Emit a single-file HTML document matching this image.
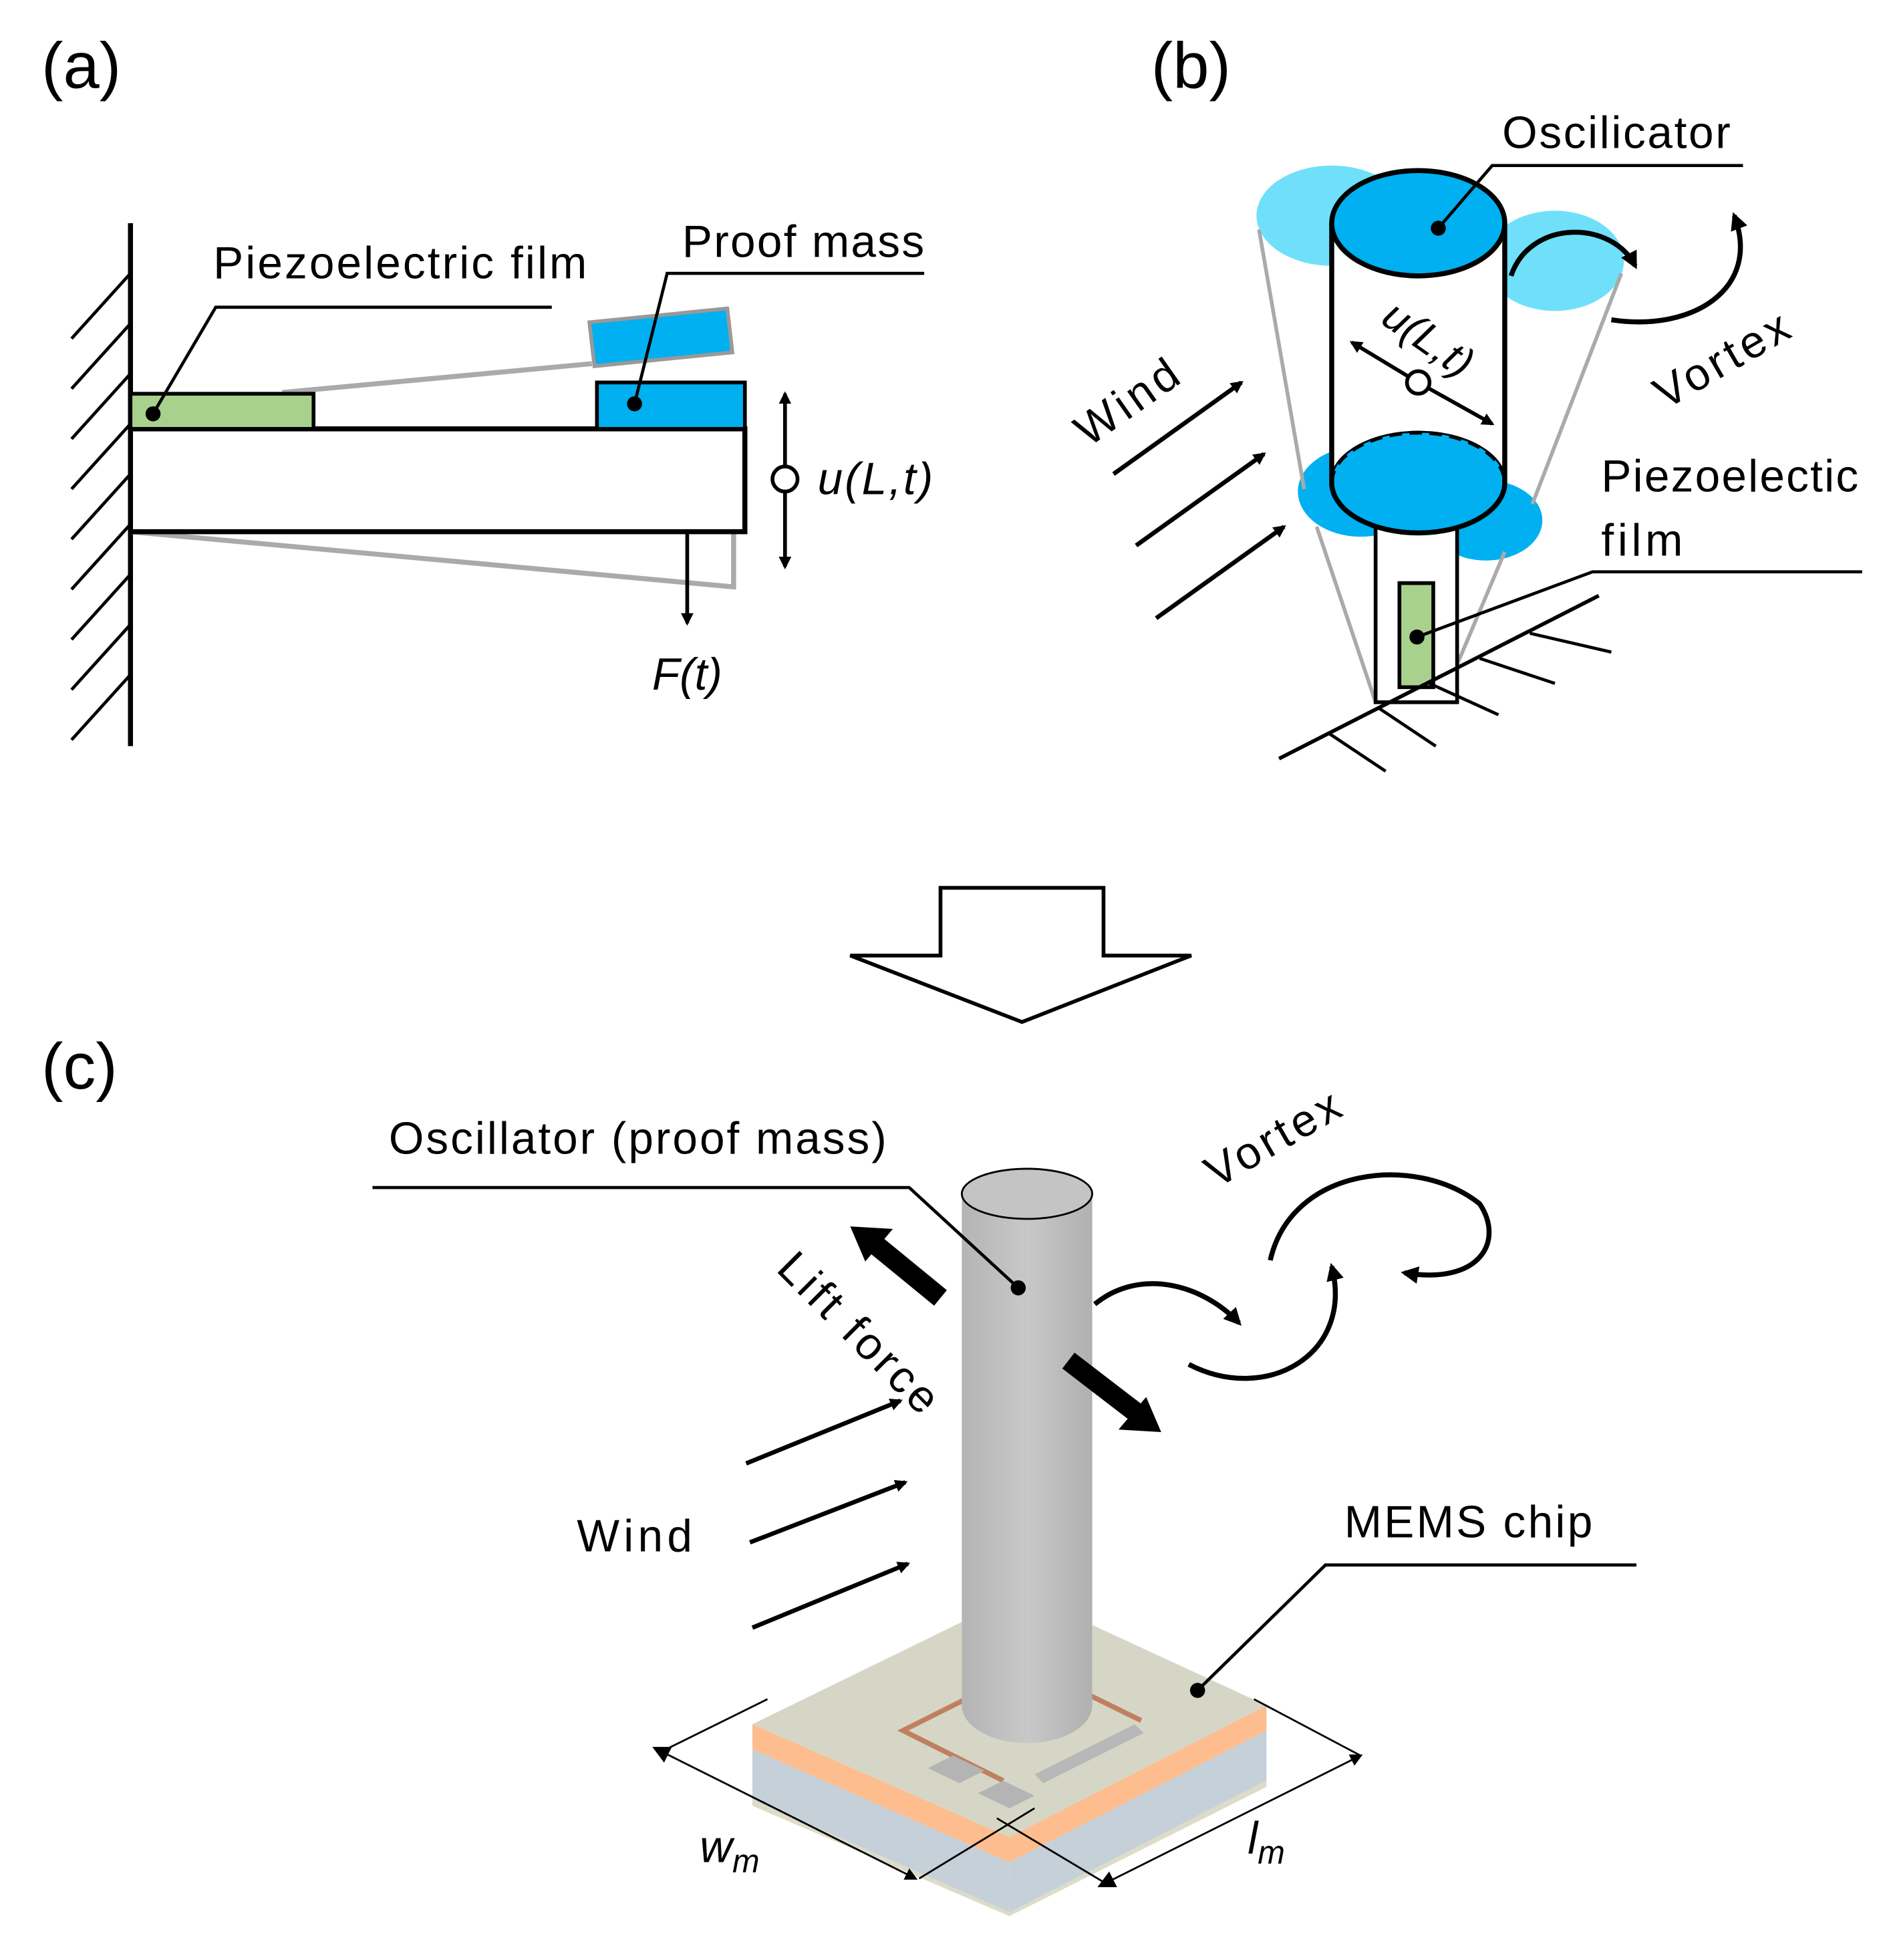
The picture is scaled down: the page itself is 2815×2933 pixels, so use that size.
<!DOCTYPE html>
<html><head><meta charset="utf-8"><style>
html,body{margin:0;padding:0;background:#fff}
svg{display:block}
text{font-family:"Liberation Sans","DejaVu Sans",sans-serif;fill:#000}
</style></head><body>
<svg width="2815" height="2933" viewBox="0 0 1500 1563" xmlns="http://www.w3.org/2000/svg">
<defs>
<marker id="ah" markerWidth="10" markerHeight="10" refX="8" refY="5" orient="auto" markerUnits="userSpaceOnUse"><path d="M0,0 L10,5 L0,10 Z" fill="#000"/></marker>
<marker id="ah2" markerWidth="14" markerHeight="14" refX="11" refY="7" orient="auto" markerUnits="userSpaceOnUse"><path d="M0,0 L14,7 L0,14 Z" fill="#000"/></marker>
<marker id="ahs" markerWidth="14" markerHeight="14" refX="3" refY="7" orient="auto-start-reverse" markerUnits="userSpaceOnUse"><path d="M0,0 L14,7 L0,14 Z" fill="#000"/></marker>
<linearGradient id="cyl" x1="0" x2="1"><stop offset="0" stop-color="#b4b4b4"/><stop offset="0.5" stop-color="#c8c8c8"/><stop offset="1" stop-color="#b0b0b0"/></linearGradient>
</defs>

<!-- (a) -->
<text x="33" y="70" font-size="52">(a)</text>
<line x1="104" y1="178" x2="104" y2="595" stroke="#000" stroke-width="4"/>
<g stroke="#000" stroke-width="2.5">
<line x1="104" y1="218" x2="57" y2="270"/><line x1="104" y1="258" x2="57" y2="310"/>
<line x1="104" y1="298" x2="57" y2="350"/><line x1="104" y1="338" x2="57" y2="390"/>
<line x1="104" y1="378" x2="57" y2="430"/><line x1="104" y1="418" x2="57" y2="470"/>
<line x1="104" y1="458" x2="57" y2="510"/><line x1="104" y1="498" x2="57" y2="550"/>
<line x1="104" y1="538" x2="57" y2="590"/>
</g>
<g stroke="#aaa" stroke-width="4" fill="none">
<line x1="225" y1="313" x2="472" y2="290"/>
<polyline points="104,424 585,468 585,425"/>
</g>
<polygon points="470,257 580,246 584,281 474,292" fill="#00b0f0" stroke="#999" stroke-width="3"/>
<rect x="104" y="342" width="490" height="82" fill="#fff" stroke="#000" stroke-width="4"/>
<rect x="104" y="314" width="146" height="28" fill="#a9d18e" stroke="#000" stroke-width="3"/>
<rect x="476" y="305" width="118" height="37" fill="#00b0f0" stroke="#000" stroke-width="3"/>
<line x1="626" y1="382" x2="626" y2="314" stroke="#000" stroke-width="3" marker-end="url(#ah)"/>
<line x1="626" y1="382" x2="626" y2="452" stroke="#000" stroke-width="3" marker-end="url(#ah)"/>
<circle cx="626" cy="382" r="10" fill="#fff" stroke="#000" stroke-width="3"/>
<text x="652" y="394" font-size="36" font-style="italic" textLength="92">u(L,t)</text>
<line x1="548" y1="424" x2="548" y2="497" stroke="#000" stroke-width="3" marker-end="url(#ah)"/>
<text x="520" y="550" font-size="36" font-style="italic">F(t)</text>
<text x="170" y="222" font-size="36" textLength="298">Piezoelectric film</text>
<polyline points="440,245 172,245 122,330" fill="none" stroke="#000" stroke-width="2.5"/>
<circle cx="122" cy="330" r="6" fill="#000"/>
<text x="544" y="205" font-size="36" textLength="193">Proof mass</text>
<polyline points="737,218 532,218 506,322" fill="none" stroke="#000" stroke-width="2.5"/>
<circle cx="506" cy="322" r="6" fill="#000"/>

<!-- (b) -->
<text x="918" y="70" font-size="52">(b)</text>
<ellipse cx="1062" cy="172" rx="60" ry="40" fill="#70e0fa"/>
<ellipse cx="1240" cy="208" rx="55" ry="40" fill="#70e0fa"/>
<ellipse cx="1085" cy="392" rx="50" ry="36" fill="#00b0f0"/>
<ellipse cx="1185" cy="415" rx="45" ry="32" fill="#00b0f0"/>
<g stroke="#aaa" stroke-width="3" fill="none">
<line x1="1004" y1="183" x2="1040" y2="390"/>
<line x1="1293" y1="218" x2="1222" y2="402"/>
<line x1="1050" y1="420" x2="1097" y2="560"/>
<line x1="1200" y1="440" x2="1162" y2="530"/>
</g>
<rect x="1097" y="420" width="65" height="140" fill="#fff" stroke="#000" stroke-width="3"/>
<rect x="1116" y="465" width="27" height="83" fill="#a9d18e" stroke="#000" stroke-width="3"/>
<rect x="1062" y="178" width="138" height="207" fill="#fff"/>
<ellipse cx="1131" cy="385" rx="69" ry="40" fill="#00b0f0" stroke="#000" stroke-width="3"/>
<path d="M1062,385 A69,40 0 0 1 1200,385" fill="#00b0f0" stroke="#000" stroke-width="3" stroke-dasharray="10,6"/>
<path d="M1062,385 A69,40 0 0 0 1200,385" fill="none" stroke="#000" stroke-width="4"/>
<line x1="1062" y1="178" x2="1062" y2="385" stroke="#000" stroke-width="4"/>
<line x1="1200" y1="178" x2="1200" y2="385" stroke="#000" stroke-width="4"/>
<ellipse cx="1131" cy="178" rx="69" ry="42" fill="#00b0f0" stroke="#000" stroke-width="4"/>
<line x1="1020" y1="605" x2="1275" y2="475" stroke="#000" stroke-width="3"/>
<g stroke="#000" stroke-width="2.5">
<line x1="1060" y1="585" x2="1105" y2="615"/><line x1="1100" y1="565" x2="1145" y2="595"/>
<line x1="1140" y1="545" x2="1195" y2="570"/><line x1="1180" y1="525" x2="1240" y2="545"/>
<line x1="1220" y1="505" x2="1285" y2="520"/>
</g>
<line x1="888" y1="378" x2="990" y2="305" stroke="#000" stroke-width="3.5" marker-end="url(#ah)"/>
<line x1="906" y1="435" x2="1008" y2="362" stroke="#000" stroke-width="3.5" marker-end="url(#ah)"/>
<line x1="922" y1="493" x2="1024" y2="420" stroke="#000" stroke-width="3.5" marker-end="url(#ah)"/>
<text x="0" y="0" font-size="36" transform="translate(868,357) rotate(-35)" textLength="92">Wind</text>
<text x="1198" y="118" font-size="36" textLength="182">Oscilicator</text>
<polyline points="1390,132 1190,132 1147,182" fill="none" stroke="#000" stroke-width="2.5"/>
<circle cx="1147" cy="182" r="6" fill="#000"/>
<line x1="1131" y1="305" x2="1078" y2="273" stroke="#000" stroke-width="3" marker-end="url(#ah)"/>
<line x1="1131" y1="305" x2="1190" y2="338" stroke="#000" stroke-width="3" marker-end="url(#ah)"/>
<circle cx="1131" cy="305" r="9" fill="#fff" stroke="#000" stroke-width="3"/>
<text x="0" y="0" font-size="34" font-style="italic" transform="translate(1100,257) rotate(35)">u(L,t)</text>
<path d="M1205,220 C1220,175 1285,175 1304,212" fill="none" stroke="#000" stroke-width="4" marker-end="url(#ah2)"/>
<path d="M1285,255 C1350,265 1405,230 1383,172" fill="none" stroke="#000" stroke-width="4" marker-end="url(#ah2)"/>
<text x="0" y="0" font-size="36" transform="translate(1328,327) rotate(-30)" textLength="118">Vortex</text>
<text x="1277" y="392" font-size="36" textLength="205">Piezoelectic</text>
<text x="1277" y="443" font-size="36" textLength="65">film</text>
<polyline points="1485,456 1270,456 1130,508" fill="none" stroke="#000" stroke-width="2.5"/>
<circle cx="1130" cy="508" r="6" fill="#000"/>

<!-- big arrow -->
<polygon points="750,708 880,708 880,762 950,762 815,815 678,762 750,762" fill="#fff" stroke="#000" stroke-width="3"/>

<!-- (c) -->
<text x="33" y="868" font-size="52">(c)</text>
<polygon points="600,1395 805,1485 805,1525 600,1435" fill="#c6d0d8"/>
<polygon points="805,1485 1010,1380 1010,1420 805,1525" fill="#c6d0d8"/>
<polygon points="600,1375 805,1465 1010,1360 1010,1380 805,1485 600,1395" fill="#fdbd8e"/>
<polygon points="600,1375 815,1270 1010,1360 805,1465" fill="#d6d6c6"/>
<polygon points="600,1435 805,1525 1010,1420 1010,1425 805,1528 600,1440" fill="#dcdcc8"/>
<polyline points="770,1355 720,1380 800,1420" fill="none" stroke="#c08060" stroke-width="4"/>
<polyline points="865,1350 910,1372" fill="none" stroke="#c08060" stroke-width="4"/>
<polygon points="740,1410 760,1400 785,1412 765,1422" fill="#b4b4b4"/>
<polygon points="780,1430 800,1420 825,1432 805,1442" fill="#b4b4b4"/>
<polygon points="825,1415 905,1375 912,1382 832,1422" fill="#b8b8b8"/>
<path d="M767,952 L767,1360 A52,30 0 0 0 871,1360 L871,952 Z" fill="url(#cyl)"/>
<ellipse cx="819" cy="952" rx="52" ry="20" fill="#c4c4c4" stroke="#000" stroke-width="1.5"/>
<g stroke="#000" stroke-width="1.5" fill="none">
<line x1="612" y1="1355" x2="525" y2="1398"/>
<line x1="825" y1="1442" x2="733" y2="1498"/>
<line x1="530" y1="1398" x2="730" y2="1498" marker-start="url(#ahs)" marker-end="url(#ah)"/>
<line x1="1000" y1="1355" x2="1085" y2="1400"/>
<line x1="795" y1="1450" x2="882" y2="1502"/>
<line x1="885" y1="1500" x2="1085" y2="1400" marker-start="url(#ahs)" marker-end="url(#ah)"/>
</g>
<text x="558" y="1485" font-size="36" font-style="italic">w<tspan font-size="26" dy="8">m</tspan></text>
<text x="995" y="1478" font-size="36" font-style="italic">l<tspan font-size="26" dy="8">m</tspan></text>
<text x="310" y="920" font-size="36" textLength="397">Oscillator (proof mass)</text>
<polyline points="297,947 725,947 812,1027" fill="none" stroke="#000" stroke-width="2.5"/>
<circle cx="812" cy="1027" r="6" fill="#000"/>
<text x="1072" y="1226" font-size="36" textLength="198">MEMS chip</text>
<polyline points="1305,1248 1057,1248 955,1348" fill="none" stroke="#000" stroke-width="2.5"/>
<circle cx="955" cy="1348" r="6" fill="#000"/>
<line x1="750" y1="1035" x2="695" y2="990" stroke="#000" stroke-width="16"/>
<polygon points="678,978 712,980 690,1006" fill="#000"/>
<line x1="852" y1="1085" x2="908" y2="1128" stroke="#000" stroke-width="16"/>
<polygon points="926,1142 892,1140 914,1114" fill="#000"/>
<text x="0" y="0" font-size="36" transform="translate(618,1013) rotate(45)" textLength="165">Lift force</text>
<text x="0" y="0" font-size="36" transform="translate(970,948) rotate(-30)" textLength="118">Vortex</text>
<path d="M873,1040 C910,1010 960,1025 988,1055" fill="none" stroke="#000" stroke-width="4" marker-end="url(#ah2)"/>
<path d="M948,1088 C1010,1120 1080,1080 1062,1010" fill="none" stroke="#000" stroke-width="4" marker-end="url(#ah2)"/>
<path d="M1013,1005 C1030,930 1130,920 1180,960 C1200,990 1180,1025 1120,1015" fill="none" stroke="#000" stroke-width="4" marker-end="url(#ah2)"/>
<line x1="595" y1="1167" x2="718" y2="1117" stroke="#000" stroke-width="3.5" marker-end="url(#ah)"/>
<line x1="598" y1="1230" x2="722" y2="1182" stroke="#000" stroke-width="3.5" marker-end="url(#ah)"/>
<line x1="600" y1="1298" x2="724" y2="1247" stroke="#000" stroke-width="3.5" marker-end="url(#ah)"/>
<text x="460" y="1237" font-size="36" textLength="92">Wind</text>
</svg>
</body></html>
